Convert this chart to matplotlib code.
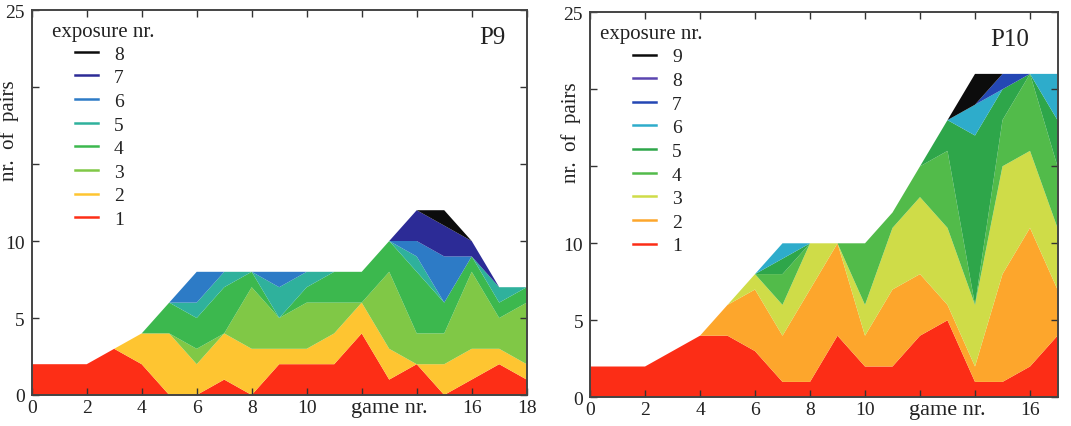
import matplotlib
matplotlib.use('Agg')
import matplotlib.pyplot as plt
from matplotlib.lines import Line2D

plt.rcParams['font.family'] = ['Liberation Serif', 'DejaVu Serif']

# P9: pairs per exposure nr. (1..8) for each game
games_p9 = list(range(19))
p9_exp1 = [2, 2, 2, 3, 2, 0, 0, 1, 0, 2, 2, 2, 4, 1, 2, 0, 1, 2, 1]
p9_exp2 = [0, 0, 0, 0, 2, 4, 2, 3, 3, 1, 1, 2, 2, 2, 0, 2, 2, 1, 1]
p9_exp3 = [0, 0, 0, 0, 0, 0, 1, 0, 4, 2, 3, 2, 0, 5, 2, 2, 5, 2, 4]
p9_exp4 = [0, 0, 0, 0, 0, 2, 2, 3, 1, 0, 1, 2, 2, 2, 4, 2, 1, 1, 1]
p9_exp5 = [0, 0, 0, 0, 0, 0, 1, 1, 0, 2, 1, 0, 0, 0, 1, 0, 0, 1, 0]
p9_exp6 = [0, 0, 0, 0, 0, 0, 2, 0, 0, 1, 0, 0, 0, 0, 1, 3, 0, 0, 0]
p9_exp7 = [0, 0, 0, 0, 0, 0, 0, 0, 0, 0, 0, 0, 0, 0, 2, 2, 1, 0, 0]
p9_exp8 = [0, 0, 0, 0, 0, 0, 0, 0, 0, 0, 0, 0, 0, 0, 0, 1, 0, 0, 0]

# P10: pairs per exposure nr. (1..9) for each game
games_p10 = list(range(18))
p10_exp1 = [2, 2, 2, 3, 4, 4, 3, 1, 1, 4, 2, 2, 4, 5, 1, 1, 2, 4]
p10_exp2 = [0, 0, 0, 0, 0, 2, 4, 3, 6, 6, 2, 5, 4, 1, 1, 7, 9, 3]
p10_exp3 = [0, 0, 0, 0, 0, 0, 1, 2, 3, 0, 2, 4, 5, 5, 4, 7, 5, 4]
p10_exp4 = [0, 0, 0, 0, 0, 0, 0, 2, 0, 0, 4, 1, 2, 5, 0, 3, 5, 4]
p10_exp5 = [0, 0, 0, 0, 0, 0, 0, 1, 0, 0, 0, 0, 0, 2, 11, 2, 0, 3]
p10_exp6 = [0, 0, 0, 0, 0, 0, 0, 1, 0, 0, 0, 0, 0, 0, 2, 0, 0, 3]
p10_exp7 = [0, 0, 0, 0, 0, 0, 0, 0, 0, 0, 0, 0, 0, 0, 0, 1, 0, 0]
p10_exp8 = [0, 0, 0, 0, 0, 0, 0, 0, 0, 0, 0, 0, 0, 0, 0, 0, 0, 0]
p10_exp9 = [0, 0, 0, 0, 0, 0, 0, 0, 0, 0, 0, 0, 0, 0, 2, 0, 0, 0]

colors_p9 = ['#fd2e16', '#fec531', '#80c846', '#3cb84e', '#2fb19c', '#2d7bc6', '#2c2b96', '#0c0c0c']
colors_p10 = ['#fc2d16', '#fda62c', '#cfdc48', '#52bb4a', '#2ea64a', '#2eaccb', '#2447b4', '#5b45b0', '#0c0c0c']

fig = plt.figure(figsize=(10.71, 4.27), dpi=100)
ax1 = fig.add_axes([0.0296, 0.0726, 0.4622, 0.9016])
ax2 = fig.add_axes([0.5509, 0.0672, 0.4365, 0.9017])


def style(ax, xmax, xticks, xlabels, lx, ly_, tx, ty, name):
    ax.set_xlim(0, xmax)
    ax.set_ylim(0, 25)
    ax.set_xticks(xticks)
    ax.set_xticklabels(xlabels)
    ax.set_yticks([0, 5, 10, 15, 20, 25])
    ax.set_yticklabels(['0', '5', '10', '', '', '25'])
    ax.tick_params(direction='in', top=True, right=True, length=5, width=1,
                   labelsize=14, colors='#333333', labelcolor='#222222')
    ax.tick_params(axis='x', pad=3)
    ax.tick_params(axis='y', pad=5)
    for s in ax.spines.values():
        s.set_linewidth(1.4)
        s.set_color('#444444')
    ax.set_xlabel('game nr.', fontsize=16, color='#222222')
    ax.xaxis.set_label_coords(13 / xmax, -2 * 100 / 72 / 385)
    ax.set_ylabel('nr.  of  pairs', fontsize=15, color='#222222')
    ax.yaxis.label.set_va('center')
    ax.yaxis.set_label_coords(ly_, 0.69)
    ax.text(lx, 0.944, 'exposure nr.', transform=ax.transAxes, fontsize=15,
            va='center', ha='left', color='#222222')
    ax.text(tx, ty, name, transform=ax.transAxes, fontsize=18,
            va='center', ha='center', color='#222222')


# left panel
ax1.stackplot(games_p9, p9_exp1, p9_exp2, p9_exp3, p9_exp4, p9_exp5, p9_exp6,
              p9_exp7, p9_exp8, colors=colors_p9, linewidth=0.6)
style(ax1, 18, list(range(0, 19, 2)),
      ['0', '2', '4', '6', '8', '10', '', '', '16', '18'],
      0.041, -0.045, 0.93, 0.93, 'P9')
h1 = [Line2D([0], [0], color=c, lw=1.8) for c in colors_p9][::-1]
ax1.legend(h1, [str(i) for i in range(8, 0, -1)], loc='upper left',
           bbox_to_anchor=(0.0875, 0.909), frameon=False, borderpad=0,
           borderaxespad=0, handlelength=1.2, handletextpad=0.8,
           labelspacing=0.31, fontsize=14, labelcolor='#222222')

# right panel
ax2.stackplot(games_p10, p10_exp1, p10_exp2, p10_exp3, p10_exp4, p10_exp5,
              p10_exp6, p10_exp7, p10_exp8, p10_exp9, colors=colors_p10, linewidth=0.6)
style(ax2, 17, list(range(0, 17, 2)),
      ['0', '2', '4', '6', '8', '10', '', '', '16'],
      0.021, -0.04, 0.898, 0.93, 'P10')
h2 = [Line2D([0], [0], color=c, lw=1.8) for c in colors_p10][::-1]
ax2.legend(h2, [str(i) for i in range(9, 0, -1)], loc='upper left',
           bbox_to_anchor=(0.092, 0.908), frameon=False, borderpad=0,
           borderaxespad=0, handlelength=1.2, handletextpad=0.8,
           labelspacing=0.31, fontsize=14, labelcolor='#222222')

fig.savefig('out.png', dpi=100)
